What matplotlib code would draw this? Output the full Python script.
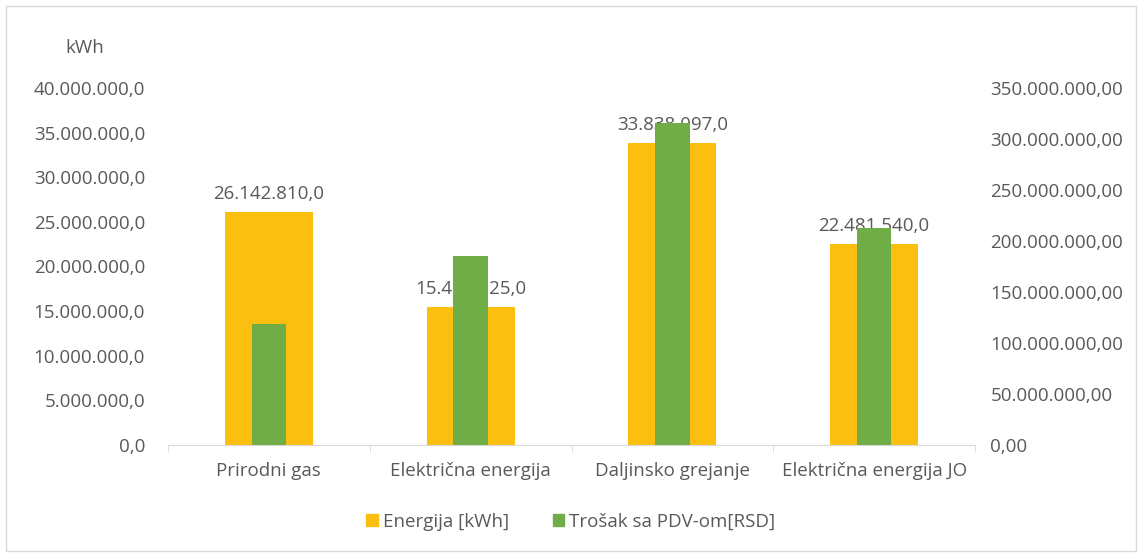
import numpy as np
import matplotlib.pyplot as plt
import matplotlib.ticker as ticker
from matplotlib.patches import Rectangle

categories = ["Prirodni gas", "Električna energija", "Daljinsko grejanje", "Električna energija JO"]
energija_kwh = [26142810.0, 15493125.0, 33838097.0, 22481540.0]
trosak_rsd = [118600000.0, 185300000.0, 316000000.0, 212700000.0]

YELLOW = "#FBBF10"
GREEN = "#70AD47"
TXT = "#595959"
FS = 13.5

plt.rcParams["font.family"] = ["Open Sans", "DejaVu Sans"]


def fmt(dec):
    def f(v, pos=None):
        s = f"{v:,.{dec}f}"
        return s.replace(",", "X").replace(".", ",").replace("X", ".")
    return f


fig = plt.figure(figsize=(11.42, 5.54), dpi=100)
ax = fig.add_axes([168 / 1142, 1 - 445 / 554, (975 - 168) / 1142, (445 - 88) / 554])
ax2 = ax.twinx()

x = np.arange(len(categories))
ax.bar(x, energija_kwh, width=0.435, color=YELLOW, zorder=2)
ax2.bar(x, trosak_rsd, width=0.17, color=GREEN, zorder=3)

for xi, v in zip(x, energija_kwh):
    ax.text(xi, v + 1000000, fmt(1)(v), ha="center", va="bottom", fontsize=FS, color=TXT, zorder=5)

ax.set_xlim(-0.5, len(categories) - 0.5)
ax.set_ylim(0, 40000000)
ax2.set_ylim(0, 350000000)
ax.yaxis.set_major_locator(ticker.MultipleLocator(5000000))
ax2.yaxis.set_major_locator(ticker.MultipleLocator(50000000))
ax.yaxis.set_major_formatter(ticker.FuncFormatter(fmt(1)))
ax2.yaxis.set_major_formatter(ticker.FuncFormatter(fmt(2)))

ax.set_xticks(x)
ax.set_xticklabels(categories)
ax.set_xticks(np.arange(-0.5, len(categories)), minor=True)
ax.tick_params(axis="x", which="major", length=0, pad=12, labelsize=FS, labelcolor=TXT)
ax.tick_params(axis="x", which="minor", length=5, color="#D9D9D9")
ax.tick_params(axis="y", length=0, pad=16.5, labelsize=FS, labelcolor=TXT)
ax2.tick_params(axis="y", length=0, pad=11, labelsize=FS, labelcolor=TXT)

for a in (ax, ax2):
    for side in ("top", "left", "right"):
        a.spines[side].set_visible(False)
    a.spines["bottom"].set_color("#D9D9D9")
ax2.spines["bottom"].set_visible(False)

fig.text(85 / 1142, 1 - 48 / 554, "kWh", ha="center", va="center", fontsize=FS, color=TXT)

# legend
handles = [Rectangle((0, 0), 1, 1, color=YELLOW), Rectangle((0, 0), 1, 1, color=GREEN)]
fig.legend(handles, ["Energija [kWh]", "Trošak sa PDV-om[RSD]"], loc="center",
           bbox_to_anchor=(0.5, 1 - 522 / 554), ncol=2, frameon=False, fontsize=FS,
           handlelength=0.6, handleheight=0.6, handletextpad=0.3, columnspacing=2.3,
           labelcolor=TXT)

fig.patches.append(Rectangle((6 / 1142, 0.005), 1 - 12 / 1142, 0.985, transform=fig.transFigure,
                             fill=False, edgecolor="#D9D9D9", linewidth=1.0))

fig.savefig("out.png", dpi=100)
